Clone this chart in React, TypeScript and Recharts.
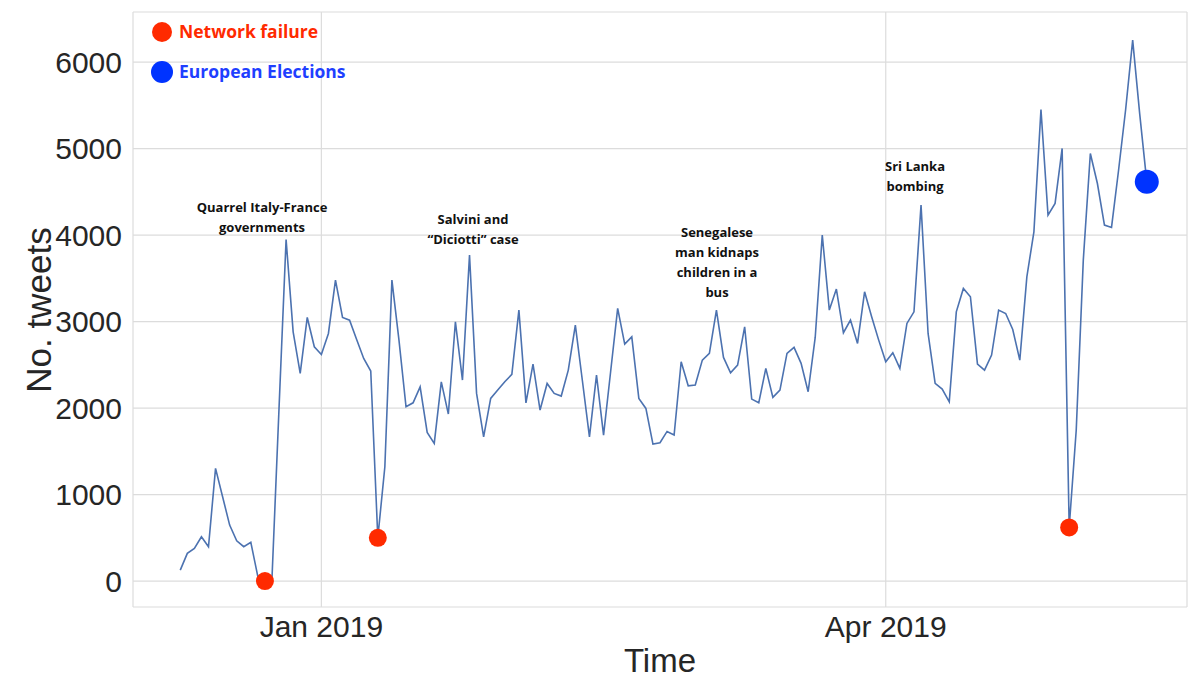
import React from 'react';
import {
  ComposedChart,
  Line,
  XAxis,
  YAxis,
  CartesianGrid,
  ReferenceDot,
  ReferenceArea,
} from 'recharts';

// Daily number of tweets (one value per sample, in order)
const tweets: number[] = [
  127, 320, 378, 512, 397, 1303, 975, 647, 466, 397,
  447, 50, 0, 30, 2000, 3950, 2882, 2401, 3048, 2709,
  2620, 2863, 3480, 3048, 3017, 2794, 2574, 2428, 500, 1321,
  3480, 2786, 2015, 2061, 2246, 1719, 1592, 2304, 1931, 2998,
  2324, 3769, 2170, 1668, 2112, 2208, 2304, 2390, 3133, 2061,
  2509, 1977, 2285, 2170, 2139, 2439, 2960, 2316, 1668, 2381,
  1688, 2420, 3152, 2740, 2824, 2112, 1996, 1584, 1599, 1730,
  1688, 2536, 2258, 2266, 2555, 2632, 3133, 2586, 2408, 2497,
  2940, 2104, 2061, 2459, 2124, 2208, 2632, 2702, 2517, 2189,
  2817, 4000, 3133, 3376, 2871, 3017, 2748, 3345, 3056, 2786,
  2536, 2640, 2459, 2979, 3113, 4347, 2863, 2285, 2220, 2073,
  3113, 3384, 3287, 2509, 2439, 2613, 3133, 3094, 2909, 2555,
  3518, 4038, 5453, 4231, 4366, 5002, 620, 1746, 3711, 4944,
  4597, 4116, 4089, 4750, 5450, 6254, 5400, 4616,
];

// Events
const failureIdx: number[] = [12, 28, 126];
const electionIdx: number[] = [137];

// Axis ticks
const xTicks: number[] = [20, 100];
const xTickLabels: string[] = ['Jan 2019', 'Apr 2019'];
const yTicks: number[] = [0, 1000, 2000, 3000, 4000, 5000, 6000];

// Annotations
const annotations: { lines: string[]; x: number; y: number }[] = [
  { lines: ['Quarrel Italy-France', 'governments'], x: 262, y: 212 },
  { lines: ['Salvini and', '\u201CDiciotti\u201D case'], x: 473, y: 224 },
  { lines: ['Senegalese', 'man kidnaps', 'children in a', 'bus'], x: 717, y: 237 },
  { lines: ['Sri Lanka', 'bombing'], x: 915, y: 171 },
];

const data = tweets.map((v, i) => ({ i, v }));

const W = 1189;
const H = 680;
const tickFont = { fontFamily: 'Liberation Sans, Arial, sans-serif', fontSize: 30, fill: '#262626' };
const annFont = 'Open Sans, Roboto, sans-serif';

export default function App() {
  return (
    <div style={{ position: 'absolute', left: 0, top: 0, width: W, height: H, background: '#fff', overflow: 'hidden' }}>
      <ComposedChart
        width={W}
        height={H}
        data={data}
        margin={{ top: 12, right: 2, bottom: 43, left: 73 }}
      >
        <CartesianGrid stroke="#dcdcdc" strokeWidth={1.2} />
        <ReferenceArea fill="none" fillOpacity={0} stroke="#cfcfcf" strokeWidth={1.2} ifOverflow="visible" />
        <XAxis
          dataKey="i"
          type="number"
          domain={[-6.7, 142.7]}
          ticks={xTicks}
          tickFormatter={(v: number) => xTickLabels[xTicks.indexOf(v)]}
          allowDataOverflow
          height={30}
          axisLine={false}
          tickLine={false}
          tickSize={0}
          tickMargin={9}
          tick={tickFont}
        />
        <YAxis
          type="number"
          domain={[-300, 6580]}
          ticks={yTicks}
          allowDataOverflow
          width={60}
          axisLine={false}
          tickLine={false}
          tickSize={0}
          tickMargin={11}
          tick={tickFont}
        />
        <Line
          type="linear"
          dataKey="v"
          stroke="#4c72b0"
          strokeWidth={1.6}
          dot={false}
          activeDot={false}
          isAnimationActive={false}
        />
        {failureIdx.map((idx) => (
          <ReferenceDot key={'f' + idx} x={idx} y={tweets[idx]} r={9} fill="#ff2a00" stroke="none" ifOverflow="visible" />
        ))}
        {electionIdx.map((idx) => (
          <ReferenceDot key={'e' + idx} x={idx} y={tweets[idx]} r={12} fill="#0033ff" stroke="none" ifOverflow="visible" />
        ))}
      </ComposedChart>
      <svg width={W} height={H} style={{ position: 'absolute', left: 0, top: 0, pointerEvents: 'none' }}>
        <circle cx={162} cy={32} r={10} fill="#ff2a00" />
        <text x={179} y={38} fontFamily={annFont} fontWeight={700} fontSize={17.5} fill="#ff2a00">
          Network failure
        </text>
        <circle cx={162} cy={72} r={11} fill="#0033ff" />
        <text x={179} y={78} fontFamily={annFont} fontWeight={700} fontSize={17.5} fill="#1f3fff">
          European Elections
        </text>
        {annotations.map((a, k) => (
          <text key={k} textAnchor="middle" fontFamily={annFont} fontWeight={700} fontSize={13} fill="#111">
            {a.lines.map((ln, j) => (
              <tspan key={j} x={a.x} y={a.y + j * 20}>
                {ln}
              </tspan>
            ))}
          </text>
        ))}
        <text x={660} y={672} textAnchor="middle" fontFamily="Liberation Sans, Arial, sans-serif" fontSize={33} fill="#262626">
          Time
        </text>
        <text
          transform="translate(51,310) rotate(-90)"
          textAnchor="middle"
          fontFamily="Liberation Sans, Arial, sans-serif"
          fontSize={35}
          fill="#262626"
        >
          No. tweets
        </text>
      </svg>
    </div>
  );
}
